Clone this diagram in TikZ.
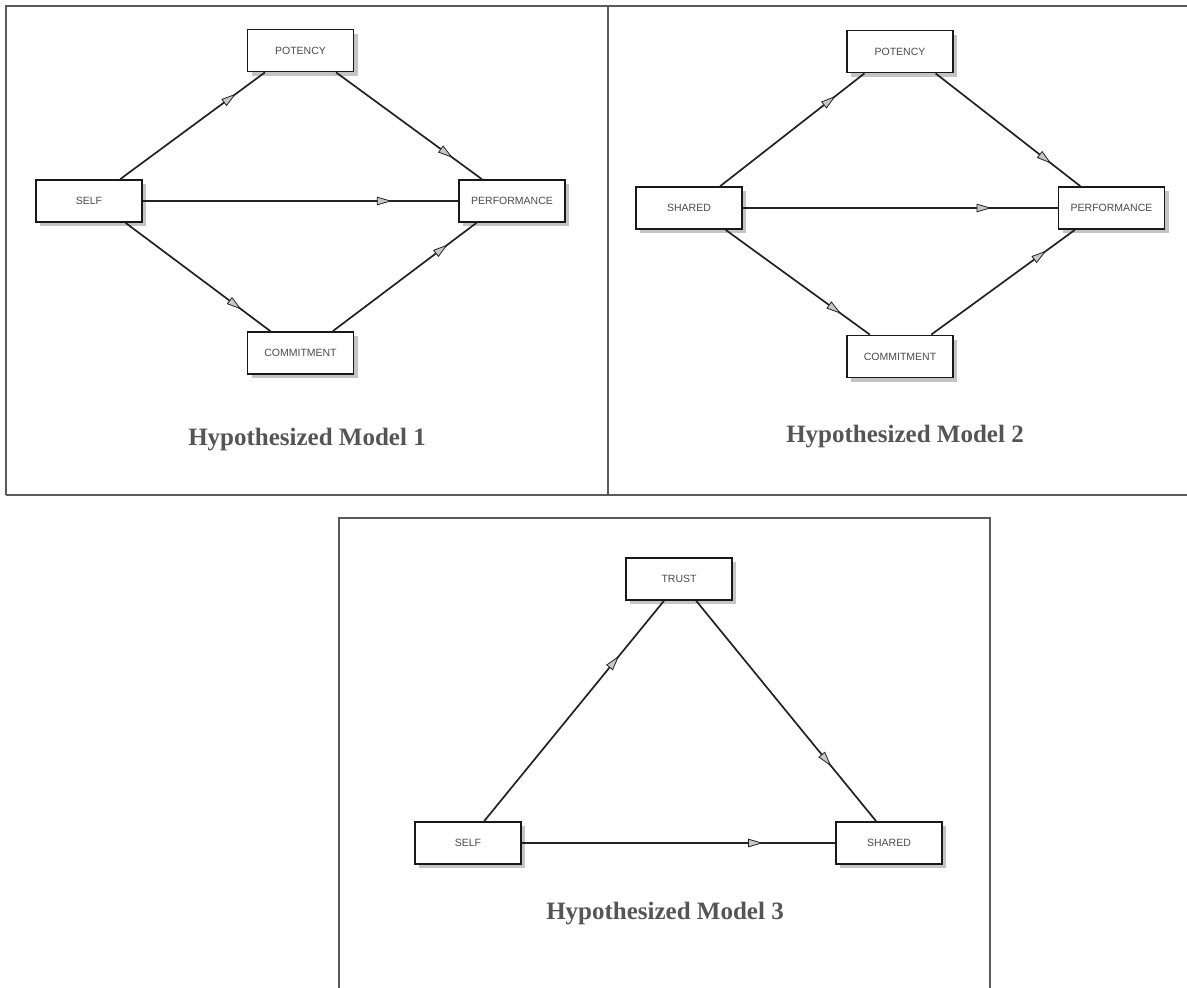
\documentclass[tikz,border=0pt]{standalone}
\usepackage{fontspec}
\setmainfont{Liberation Serif}
\newfontfamily\boxfont{Liberation Sans}
\usetikzlibrary{arrows.meta,decorations.markings,shadows,calc}
\definecolor{framegray}{HTML}{5A5A5A}
\definecolor{txtgray}{HTML}{4A4A4A}
\definecolor{titlegray}{HTML}{555555}
\definecolor{shadowgray}{HTML}{C4C4C4}
\definecolor{tipfill}{HTML}{C8C8C8}
\definecolor{linegray}{HTML}{222222}
\begin{document}
\begin{tikzpicture}[x=1pt,y=-1pt,
  box/.style={draw=black!90, line width=1.8pt, fill=white, minimum width=106pt, minimum height=42pt, inner sep=0pt,
    font=\boxfont\fontsize{10.5}{12}\selectfont, text=txtgray,
    drop shadow={shadow xshift=4pt, shadow yshift=-4pt, fill=shadowgray, opacity=1}},
  link/.style={draw=linegray, line width=1.7pt, postaction={decorate},
    decoration={markings, mark=at position #1 with {\arrow{Triangle[length=15pt,width=8.5pt,fill=tipfill,line width=0.8pt]}}}},
  link/.default=0.8,
  frame/.style={draw=framegray, line width=2pt},
  title/.style={font=\bfseries\fontsize{25}{29}\selectfont, text=titlegray}
]
\useasboundingbox (0,0) rectangle (1187,988);
% frames
\draw[frame] (6,495) -- (6,6) -- (1187,6);
\draw[frame] (6,495) -- (1187,495);
\draw[frame] (608,6) -- (608,495);
\draw[frame] (339,988) -- (339,518) -- (990,518) -- (990,988);

% Model 1
\node[box] (p1) at (300.5,50.5) {POTENCY};
\node[box] (s1) at (89,201) {SELF};
\node[box] (f1) at (512,201) {PERFORMANCE};
\node[box] (c1) at (300.5,353) {COMMITMENT};
\draw[link] ($(s1.north west)!0.79!(s1.north east)$) -- ($(p1.south west)!0.17!(p1.south east)$);
\draw[link] ($(p1.south west)!0.83!(p1.south east)$) -- ($(f1.north west)!0.22!(f1.north east)$);
\draw[link=0.79] (s1.east) -- (f1.west);
\draw[link] ($(s1.south west)!0.84!(s1.south east)$) -- ($(c1.north west)!0.22!(c1.north east)$);
\draw[link] ($(c1.north west)!0.8!(c1.north east)$) -- ($(f1.south west)!0.17!(f1.south east)$);
\node[title] (t1) at (307,440) {Hypothesized Model 1};

% Model 2
\node[box] (p2) at (900,51.5) {POTENCY};
\node[box] (s2) at (689,208) {SHARED};
\node[box] (f2) at (1111.5,208) {PERFORMANCE};
\node[box] (c2) at (900,356.5) {COMMITMENT};
\draw[link] ($(s2.north west)!0.79!(s2.north east)$) -- ($(p2.south west)!0.17!(p2.south east)$);
\draw[link] ($(p2.south west)!0.83!(p2.south east)$) -- ($(f2.north west)!0.21!(f2.north east)$);
\draw[link=0.79] (s2.east) -- (f2.west);
\draw[link] ($(s2.south west)!0.84!(s2.south east)$) -- ($(c2.north west)!0.22!(c2.north east)$);
\draw[link] ($(c2.north west)!0.79!(c2.north east)$) -- ($(f2.south west)!0.16!(f2.south east)$);
\node[title] (t2) at (905,437) {Hypothesized Model 2};

% Model 3
\node[box] (t3) at (679,579) {TRUST};
\node[box] (s3) at (468,843) {SELF};
\node[box] (h3) at (889,843) {SHARED};
\draw[link=0.75] ($(s3.north west)!0.65!(s3.north east)$) -- ($(t3.south west)!0.36!(t3.south east)$);
\draw[link=0.75] ($(t3.south west)!0.66!(t3.south east)$) -- ($(h3.north west)!0.38!(h3.north east)$);
\draw[link=0.77] (s3.east) -- (h3.west);
\node[title] (t3t) at (665,914) {Hypothesized Model 3};
\end{tikzpicture}
\end{document}
